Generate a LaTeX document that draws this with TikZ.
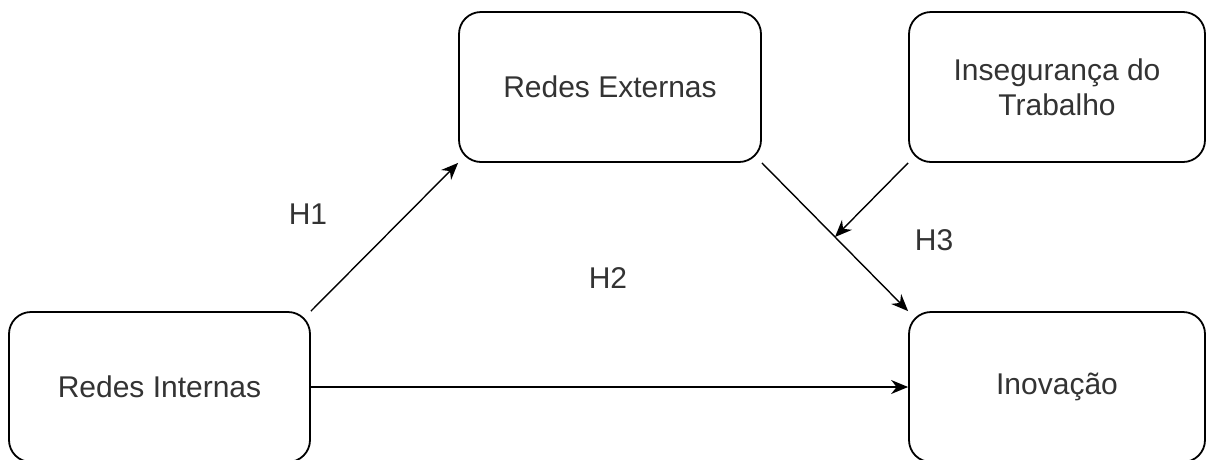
\documentclass[tikz,border=0pt]{standalone}
\usepackage{fontspec}
\setmainfont{Liberation Sans}
\usetikzlibrary{arrows.meta,calc}
\definecolor{txt}{HTML}{333333}
\tikzset{
  box/.style={draw=black, line width=1.8pt, rounded corners=22pt, fill=white,
    minimum height=150pt, inner sep=0pt, align=center, text=txt,
    font=\fontsize{30}{35}\selectfont},
  conn/.style={line width=1.4pt, -{Stealth[length=17pt,width=14pt]}},
  hlabel/.style={text=txt, font=\fontsize{30}{35}\selectfont, inner sep=0pt}
}
\begin{document}
\begin{tikzpicture}[x=1pt,y=-1pt]
\useasboundingbox (0,0) rectangle (1206,459);
\clip (0,0) rectangle (1206,459);
\node[box, minimum width=302pt] (re) at (610,87) {Redes Externas};
\node[box, minimum width=296pt] (ins) at (1057,87) {Insegurança do\\Trabalho};
\node[box, minimum width=301pt] (ri) at (159.5,387) {Redes Internas};
\node[box, minimum width=296pt] (inov) at (1057,387) {Inovação};
\coordinate (mid) at ($(re.south east)!0.5!(inov.north west)$);
\draw[conn] (ri.north east) -- (re.south west);
\draw[conn] (ri.east) -- (inov.west);
\draw[conn] (re.south east) -- (inov.north west);
\draw[conn] (ins.south west) -- (mid);
\node[hlabel] (h1) at (308,214) {H1};
\node[hlabel] (h2) at (608,278) {H2};
\node[hlabel] (h3) at (934,240) {H3};
\end{tikzpicture}
\end{document}
